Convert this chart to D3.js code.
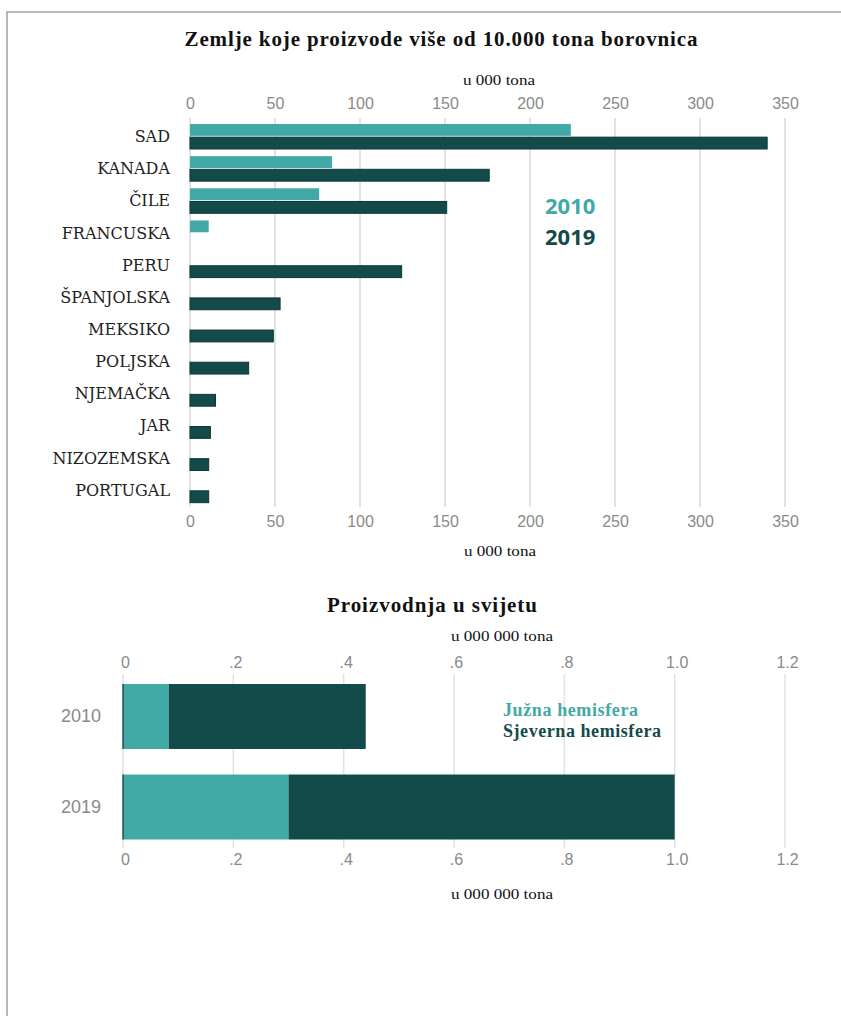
<!DOCTYPE html>
<html>
<head>
<meta charset="utf-8">
<script src="https://cdn.jsdelivr.net/npm/d3@7"></script>
<style>
  html, body { margin: 0; padding: 0; background: #fff; }
  svg { display: block; }
</style>
</head>
<body>
<svg id="chart" width="841" height="1016"></svg>
<script>
// ---- Data ----
const countries = ["SAD", "KANADA", "ČILE", "FRANCUSKA", "PERU", "ŠPANJOLSKA", "MEKSIKO", "POLJSKA", "NJEMAČKA", "JAR", "NIZOZEMSKA", "PORTUGAL"];
const values2010 = [224, 83.5, 76, 11, null, null, null, null, null, null, null, null];
const values2019 = [339.5, 176, 151, null, 124.5, 53, 49, 34.5, 15, 12, 11, 11];
const seriesYears = ["2010", "2019"];
const topTicks = [0, 50, 100, 150, 200, 250, 300, 350];

const worldYears = ["2010", "2019"];
const southValues = [0.083, 0.30];
const northValues = [0.357, 0.70];
const worldTicks = [0, 0.2, 0.4, 0.6, 0.8, 1.0, 1.2];
const worldTickLabels = ["0", ".2", ".4", ".6", ".8", "1.0", "1.2"];

const titleTop = "Zemlje koje proizvode više od 10.000 tona borovnica";
const titleBottom = "Proizvodnja u svijetu";
const unitTop = "u 000 tona";
const unitBottom = "u 000 000 tona";
const legendBottom = ["Južna hemisfera", "Sjeverna hemisfera"];

// ---- Styles ----
const teal = "#41a9a6";
const dark = "#134a4a";
const darkStroke = "#0c3838";
const gridColor = "#e2e2e2";
const tickColor = "#8a8a8a";
const serif = "'Liberation Serif', 'Times New Roman', serif";
const labelSerif = "'DejaVu Serif', serif";
const sans = "'Liberation Sans', Arial, sans-serif";

const svg = d3.select("#chart");

// frame
svg.append("rect")
  .attr("x", 7).attr("y", 12).attr("width", 850).attr("height", 1020)
  .attr("fill", "none").attr("stroke", "#a3a3a3").attr("stroke-width", 1.5);

// ================= TOP CHART =================
const x1 = d3.scaleLinear().domain([0, 350]).range([190, 785]);
const yRow = d3.scaleBand().domain(countries).range([120.5, 506.3]).padding(0);
const ySub = d3.scaleBand().domain(seriesYears).range([3.5, 28.5]).paddingInner(0.1);

svg.append("text")
  .attr("x", 441).attr("y", 46).attr("text-anchor", "middle")
  .attr("font-family", serif).attr("font-weight", "bold").attr("font-size", 21)
  .attr("textLength", 513).attr("lengthAdjust", "spacing")
  .attr("fill", "#111").text(titleTop);

svg.append("text")
  .attr("x", 499).attr("y", 82).attr("text-anchor", "middle").attr("dominant-baseline", "middle")
  .attr("font-family", serif).attr("font-size", 15)
  .attr("textLength", 72).attr("lengthAdjust", "spacingAndGlyphs")
  .attr("fill", "#111").text(unitTop);

svg.append("text")
  .attr("x", 500).attr("y", 553).attr("text-anchor", "middle").attr("dominant-baseline", "middle")
  .attr("font-family", serif).attr("font-size", 15)
  .attr("textLength", 72).attr("lengthAdjust", "spacingAndGlyphs")
  .attr("fill", "#111").text(unitTop);

// gridlines
svg.append("g").selectAll("line").data(topTicks).join("line")
  .attr("x1", d => x1(d)).attr("x2", d => x1(d))
  .attr("y1", 118).attr("y2", 507)
  .attr("stroke", gridColor).attr("stroke-width", 2);

// top axis
const axTop = svg.append("g").attr("transform", "translate(0,109)")
  .call(d3.axisTop(x1).tickValues(topTicks).tickSize(0).tickPadding(0).tickFormat(d3.format("d")));
axTop.select(".domain").remove();
axTop.selectAll("text").attr("font-family", sans).attr("font-size", 16).attr("fill", tickColor);

const axBot = svg.append("g").attr("transform", "translate(0,516)")
  .call(d3.axisBottom(x1).tickValues(topTicks).tickSize(0).tickPadding(0).tickFormat(d3.format("d")));
axBot.select(".domain").remove();
axBot.selectAll("text").attr("font-family", sans).attr("font-size", 16).attr("fill", tickColor);

// country labels
svg.append("g").selectAll("text").data(countries).join("text")
  .attr("x", 170).attr("y", d => yRow(d) + yRow.bandwidth() / 2 + 1)
  .attr("text-anchor", "end").attr("dominant-baseline", "middle")
  .attr("font-family", labelSerif).attr("font-size", 16).attr("fill", "#222")
  .text(d => d);

// bars
const barData = [];
countries.forEach((c, i) => {
  if (values2010[i] != null) barData.push({ c, year: "2010", v: values2010[i] });
  if (values2019[i] != null) barData.push({ c, year: "2019", v: values2019[i] });
});
svg.append("g").selectAll("rect").data(barData).join("rect")
  .attr("x", x1(0))
  .attr("y", d => yRow(d.c) + ySub(d.year))
  .attr("width", d => x1(d.v) - x1(0))
  .attr("height", ySub.bandwidth())
  .attr("fill", d => d.year === "2010" ? teal : dark)
  .attr("stroke", d => d.year === "2010" ? "none" : darkStroke)
  .attr("stroke-width", 1);

// legend top
svg.append("text").attr("x", 545).attr("y", 208).attr("dominant-baseline", "middle")
  .attr("font-family", "'Open Sans', sans-serif").attr("font-weight", "bold").attr("font-size", 22)
  .attr("fill", teal).text(seriesYears[0]);
svg.append("text").attr("x", 545).attr("y", 239).attr("dominant-baseline", "middle")
  .attr("font-family", "'Open Sans', sans-serif").attr("font-weight", "bold").attr("font-size", 22)
  .attr("fill", dark).text(seriesYears[1]);

// ================= BOTTOM CHART =================
const x2 = d3.scaleLinear().domain([0, 1.2]).range([123, 785]);
const y2 = d3.scaleBand().domain(worldYears).range([684, 839.5]).paddingInner(0.282).paddingOuter(0);

svg.append("text")
  .attr("x", 432).attr("y", 612).attr("text-anchor", "middle")
  .attr("font-family", serif).attr("font-weight", "bold").attr("font-size", 21)
  .attr("textLength", 210).attr("lengthAdjust", "spacing")
  .attr("fill", "#111").text(titleBottom);

svg.append("text")
  .attr("x", 502).attr("y", 638).attr("text-anchor", "middle").attr("dominant-baseline", "middle")
  .attr("font-family", serif).attr("font-size", 15)
  .attr("textLength", 102).attr("lengthAdjust", "spacingAndGlyphs")
  .attr("fill", "#111").text(unitBottom);

svg.append("text")
  .attr("x", 502).attr("y", 896).attr("text-anchor", "middle").attr("dominant-baseline", "middle")
  .attr("font-family", serif).attr("font-size", 15)
  .attr("textLength", 102).attr("lengthAdjust", "spacingAndGlyphs")
  .attr("fill", "#111").text(unitBottom);

svg.append("g").selectAll("line").data(worldTicks).join("line")
  .attr("x1", d => x2(d)).attr("x2", d => x2(d))
  .attr("y1", 674).attr("y2", 848)
  .attr("stroke", gridColor).attr("stroke-width", 1.5);

const ax2Top = svg.append("g").attr("transform", "translate(2,668)")
  .call(d3.axisTop(x2).tickValues(worldTicks).tickSize(0).tickPadding(0)
    .tickFormat((d, i) => worldTickLabels[i]));
ax2Top.select(".domain").remove();
ax2Top.selectAll("text").attr("font-family", sans).attr("font-size", 16).attr("fill", tickColor);

const ax2Bot = svg.append("g").attr("transform", "translate(2,854)")
  .call(d3.axisBottom(x2).tickValues(worldTicks).tickSize(0).tickPadding(0)
    .tickFormat((d, i) => worldTickLabels[i]));
ax2Bot.select(".domain").remove();
ax2Bot.selectAll("text").attr("font-family", sans).attr("font-size", 16).attr("fill", tickColor);

// year labels
svg.append("g").selectAll("text").data(worldYears).join("text")
  .attr("x", 101).attr("y", d => y2(d) + y2.bandwidth() / 2 + 1)
  .attr("text-anchor", "end").attr("dominant-baseline", "middle")
  .attr("font-family", sans).attr("font-size", 18).attr("fill", tickColor)
  .text(d => d);

// stacked bars
const stackRows = worldYears.map((y, i) => ({ year: y, south: southValues[i], north: northValues[i] }));
const stacked = d3.stack().keys(["south", "north"])(stackRows);
svg.append("g").selectAll("g").data(stacked).join("g")
  .attr("fill", d => d.key === "south" ? teal : dark)
  .selectAll("rect").data(d => d).join("rect")
  .attr("x", d => x2(d[0]))
  .attr("y", d => y2(d.data.year))
  .attr("width", d => x2(d[1]) - x2(d[0]))
  .attr("height", y2.bandwidth());

// zero line at bar start
svg.append("g").selectAll("line").data(worldYears).join("line")
  .attr("x1", x2(0)).attr("x2", x2(0))
  .attr("y1", d => y2(d)).attr("y2", d => y2(d) + y2.bandwidth())
  .attr("stroke", "#0c3434").attr("stroke-width", 1.2);

// legend bottom
svg.append("text").attr("x", 503).attr("y", 712).attr("dominant-baseline", "middle")
  .attr("font-family", serif).attr("font-weight", "bold").attr("font-size", 18)
  .attr("textLength", 135).attr("lengthAdjust", "spacing")
  .attr("fill", teal).text(legendBottom[0]);
svg.append("text").attr("x", 503).attr("y", 733).attr("dominant-baseline", "middle")
  .attr("font-family", serif).attr("font-weight", "bold").attr("font-size", 18)
  .attr("textLength", 158).attr("lengthAdjust", "spacing")
  .attr("fill", dark).text(legendBottom[1]);
</script>
</body>
</html>
